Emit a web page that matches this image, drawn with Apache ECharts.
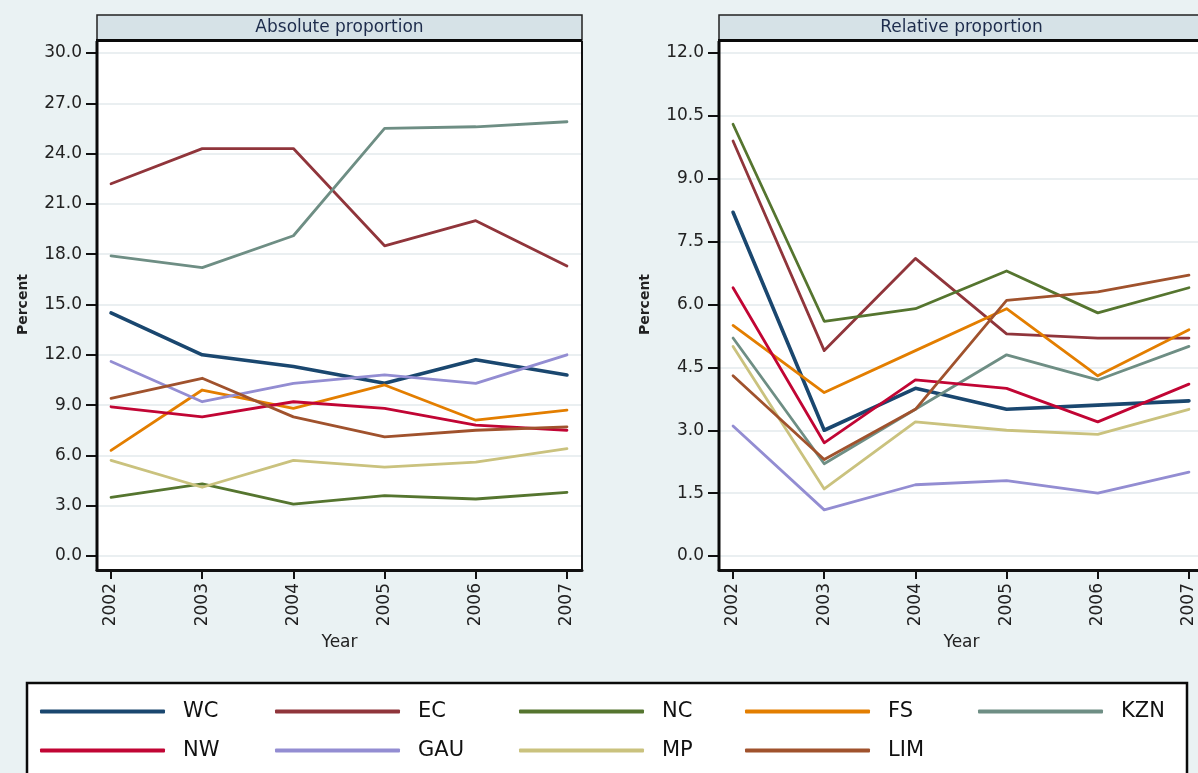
<!DOCTYPE html>
<html>
<head>
<meta charset="utf-8">
<title>Absolute and relative proportion by province, 2002–2007</title>
<script src="https://cdn.jsdelivr.net/npm/echarts@6/dist/echarts.min.js"></script>
<style>
  html, body { margin: 0; padding: 0; background: #eaf2f3; }
  #chart { width: 1198px; height: 773px; }
</style>
</head>
<body>
<div id="chart"></div>
<script>
// Years on the horizontal axis
const years = [2002, 2003, 2004, 2005, 2006, 2007];

// Province names, in drawing / legend order
const provinces = ['WC', 'EC', 'NC', 'FS', 'KZN', 'NW', 'GAU', 'MP', 'LIM'];

// Absolute proportion (percent)
const absWC  = [14.5, 12.0, 11.3, 10.3, 11.7, 10.8];
const absEC  = [22.2, 24.3, 24.3, 18.5, 20.0, 17.3];
const absNC  = [3.5, 4.3, 3.1, 3.6, 3.4, 3.8];
const absFS  = [6.3, 9.9, 8.8, 10.2, 8.1, 8.7];
const absKZN = [17.9, 17.2, 19.1, 25.5, 25.6, 25.9];
const absNW  = [8.9, 8.3, 9.2, 8.8, 7.8, 7.5];
const absGAU = [11.6, 9.2, 10.3, 10.8, 10.3, 12.0];
const absMP  = [5.7, 4.1, 5.7, 5.3, 5.6, 6.4];
const absLIM = [9.4, 10.6, 8.3, 7.1, 7.5, 7.7];

// Relative proportion (percent)
const relWC  = [8.2, 3.0, 4.0, 3.5, 3.6, 3.7];
const relEC  = [9.9, 4.9, 7.1, 5.3, 5.2, 5.2];
const relNC  = [10.3, 5.6, 5.9, 6.8, 5.8, 6.4];
const relFS  = [5.5, 3.9, 4.9, 5.9, 4.3, 5.4];
const relKZN = [5.2, 2.2, 3.5, 4.8, 4.2, 5.0];
const relNW  = [6.4, 2.7, 4.2, 4.0, 3.2, 4.1];
const relGAU = [3.1, 1.1, 1.7, 1.8, 1.5, 2.0];
const relMP  = [5.0, 1.6, 3.2, 3.0, 2.9, 3.5];
const relLIM = [4.3, 2.3, 3.5, 6.1, 6.3, 6.7];

// Panel titles and axis settings
const panelTitles = ['Absolute proportion', 'Relative proportion'];
const yMax = [30, 12];
const yStep = [3, 1.5];

const absolute = [absWC, absEC, absNC, absFS, absKZN, absNW, absGAU, absMP, absLIM];
const relative = [relWC, relEC, relNC, relFS, relKZN, relNW, relGAU, relMP, relLIM];

// Stata s2color-style palette
const colors = ['#1a476f', '#90353b', '#55752f', '#e37e00', '#6e8e84',
                '#c10534', '#938dd2', '#cac27e', '#a0522d'];

const FONT = 'DejaVu Sans';
const BG = '#eaf2f3';

// Panel geometry (pixels); the second panel runs past the right edge
const panels = [
  { left: 97, plotTop: 41, top: 53, height: 503, width: 485, bottomLine: 570, headerExtra: 0 },
  { left: 719, plotTop: 41, top: 53, height: 503, width: 485, bottomLine: 570, headerExtra: 10 }
];
const xMin = 2001.846, xMax = 2007.165;

const grids = panels.map(p => ({
  left: p.left, top: p.top, width: p.width, height: p.height,
  containLabel: false, outerBoundsMode: 'none'
}));

const xAxes = panels.map((p, i) => ({
  type: 'value', gridIndex: i, min: xMin, max: xMax,
  offset: p.bottomLine - (p.top + p.height),
  name: 'Year', nameLocation: 'middle', nameGap: 56,
  nameTextStyle: { fontFamily: FONT, fontSize: 17, color: '#222' },
  axisLine: { show: true, onZero: false, lineStyle: { color: '#111', width: 3 } },
  axisTick: { show: true, length: 9, customValues: years, lineStyle: { color: '#111', width: 2 } },
  axisLabel: {
    customValues: years, rotate: 90, margin: 13,
    fontFamily: FONT, fontSize: 17, color: '#222',
    formatter: v => String(Math.round(v))
  },
  splitLine: { show: false }
}));

const yAxes = panels.map((p, i) => ({
  type: 'value', gridIndex: i, min: 0, max: yMax[i], interval: yStep[i],
  name: 'Percent', nameLocation: 'middle', nameGap: 67, nameRotate: 90,
  nameTextStyle: { fontFamily: FONT, fontSize: 14, fontWeight: 'bold', color: '#222' },
  axisLine: { show: false },
  axisTick: { show: true, length: 11, lineStyle: { color: '#111', width: 2 } },
  axisLabel: {
    margin: 15, fontFamily: FONT, fontSize: 17, color: '#222',
    formatter: v => v.toFixed(1)
  },
  splitLine: { show: true, lineStyle: { color: '#e3eaed', width: 1.5 } }
}));

const series = [];
[absolute, relative].forEach((set, gi) => {
  set.forEach((vals, k) => {
    series.push({
      type: 'line', name: provinces[k],
      xAxisIndex: gi, yAxisIndex: gi,
      data: years.map((y, j) => [y, vals[j]]),
      showSymbol: false, symbol: 'none',
      color: colors[k],
      lineStyle: { color: colors[k], width: k === 0 ? 3.6 : 2.8, cap: 'round', join: 'round' },
      emphasis: { disabled: true },
      z: 3 + k
    });
  });
});

// Legend: one entry per slot, laid out in a 5-column grid
const legendCols = [40, 275, 519, 745, 978];
const legendRows = [711, 750];
const legends = provinces.map((name, k) => ({
  data: [name],
  left: legendCols[k % 5],
  top: legendRows[Math.floor(k / 5)] - 10,
  padding: 0,
  itemWidth: 125, itemHeight: 4,
  icon: 'roundRect',
  selectedMode: false,
  textStyle: { fontFamily: FONT, fontSize: 21, color: '#111', padding: [0, 0, 0, 13] }
}));

// Plot frames, panel headers and legend box
const graphics = [];
panels.forEach((p, i) => {
  const right = p.left + p.width;
  graphics.push({
    type: 'rect', z: -10,
    shape: { x: p.left, y: p.plotTop, width: p.width, height: p.bottomLine - p.plotTop },
    style: { fill: '#ffffff' }
  });
  graphics.push({
    type: 'rect', z: 50,
    shape: { x: p.left, y: 15, width: p.width + p.headerExtra, height: 25 },
    style: { fill: '#d6e2e7', stroke: '#222', lineWidth: 1.5 }
  });
  graphics.push({
    type: 'line', z: 60,
    shape: { x1: p.left - 1, y1: 40.5, x2: right + p.headerExtra, y2: 40.5 },
    style: { stroke: '#0a0a0a', lineWidth: 3 }
  });
  graphics.push({
    type: 'text', z: 61,
    style: {
      text: panelTitles[i], x: p.left + p.width / 2, y: 28,
      align: 'center', verticalAlign: 'middle',
      fontFamily: FONT, fontSize: 17, fill: '#1d2c4c'
    }
  });
  graphics.push({
    type: 'line', z: 60,
    shape: { x1: p.left, y1: p.plotTop, x2: p.left, y2: p.bottomLine + 1 },
    style: { stroke: '#0a0a0a', lineWidth: 3 }
  });
  graphics.push({
    type: 'line', z: 1,
    shape: { x1: right, y1: p.plotTop, x2: right, y2: p.bottomLine },
    style: { stroke: '#111', lineWidth: 2 }
  });
});
graphics.push({
  type: 'rect', z: -10,
  shape: { x: 27, y: 683, width: 1160, height: 130 },
  style: { fill: '#ffffff', stroke: '#0a0a0a', lineWidth: 2.5 }
});

const chart = echarts.init(document.getElementById('chart'), null, { renderer: 'canvas' });
chart.setOption({
  backgroundColor: BG,
  animation: false,
  textStyle: { fontFamily: FONT },
  grid: grids,
  xAxis: xAxes,
  yAxis: yAxes,
  legend: legends,
  series: series,
  graphic: { elements: graphics }
});
</script>
</body>
</html>
